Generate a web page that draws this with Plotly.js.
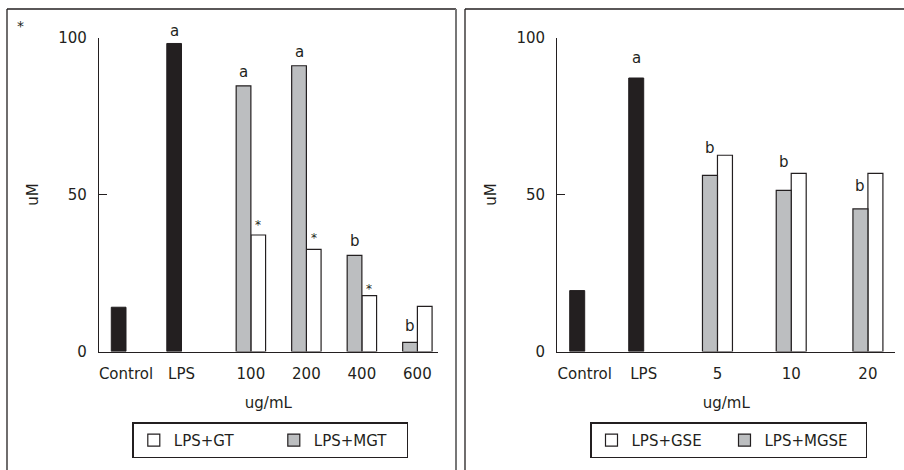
<!DOCTYPE html>
<html>
<head>
<meta charset="utf-8">
<script src="https://cdn.plot.ly/plotly-3.0.1.min.js"></script>
<style>
  html, body { margin: 0; padding: 0; background: #ffffff; }
  #chart { width: 904px; height: 470px; }
</style>
</head>
<body>
<div id="chart"></div>
<script>
// ---------------- data ----------------
const leftCats = ['Control', 'LPS', '100', '200', '400', '600'];
const leftBlack = [14.1, 98.1];            // Control, LPS
const leftMGT = [84.6, 91.0, 30.6, 2.9];   // LPS+MGT at 100..600
const leftGT = [37.1, 32.5, 17.8, 14.4];   // LPS+GT at 100..600
const leftBlackSig = ['', 'a'];
const leftMGTSig = ['a', 'a', 'b', 'b'];
const leftGTSig = ['*', '*', '*', ''];

const rightCats = ['Control', 'LPS', '5', '10', '20'];
const rightBlack = [19.4, 87.1];
const rightMGSE = [56.1, 51.3, 45.4];
const rightGSE = [62.5, 56.7, 56.7];
const rightBlackSig = ['', 'a'];
const rightMGSESig = ['b', 'b', 'b'];

const xUnit = 'ug/mL';
const yUnit = 'uM';

// ---------------- layout constants (positions / styles) ----------------
const leftPos = [0, 1, 2.25, 3.25, 4.25, 5.25];
const rightPos = [0, 1, 2.25, 3.5, 4.8];
const wL = 0.265, wR = 0.254;
const INK = '#231f20', GRAY = '#bcbec0';
const FONT = 'DejaVu Sans, Verdana, sans-serif';
// baseline lift above bar top (px) for letters, centre lift for asterisks
const liftLBlack = [0, 6], liftLMGT = [7, 7.4, 7.6, 9.6], liftLGT = [12.3, 12.8, 8.4, 0];
const liftRBlack = [0, 13.7], liftRMGSE = [21.3, 22.3, 16.3];

const lineStyle = { color: INK, width: 1.2 };

const data = [
  { type: 'bar', x: leftPos.slice(0, 2), y: leftBlack, width: wL, offset: -wL,
    marker: { color: INK, line: { color: INK, width: 1 } }, showlegend: false, xaxis: 'x', yaxis: 'y' },
  { type: 'bar', name: 'LPS+GT', x: leftPos.slice(2), y: leftGT, width: wL, offset: 0, legendwidth: 95,
    marker: { color: '#ffffff', line: lineStyle }, legend: 'legend', xaxis: 'x', yaxis: 'y' },
  { type: 'bar', name: 'LPS+MGT', x: leftPos.slice(2), y: leftMGT, width: wL, offset: -wL, legendwidth: 88,
    marker: { color: GRAY, line: lineStyle }, legend: 'legend', xaxis: 'x', yaxis: 'y' },
  { type: 'bar', x: rightPos.slice(0, 2), y: rightBlack, width: wR, offset: -wR,
    marker: { color: INK, line: { color: INK, width: 1 } }, showlegend: false, xaxis: 'x2', yaxis: 'y2' },
  { type: 'bar', name: 'LPS+GSE', x: rightPos.slice(2), y: rightGSE, width: wR, offset: 0, legendwidth: 88,
    marker: { color: '#ffffff', line: lineStyle }, legend: 'legend2', xaxis: 'x2', yaxis: 'y2' },
  { type: 'bar', name: 'LPS+MGSE', x: rightPos.slice(2), y: rightMGSE, width: wR, offset: -wR, legendwidth: 96,
    marker: { color: GRAY, line: lineStyle }, legend: 'legend2', xaxis: 'x2', yaxis: 'y2' }
];

const annotations = [];
function addSig(labels, xs, ys, dx, lifts, xref, yref) {
  labels.forEach((t, i) => {
    if (!t) return;
    const star = t === '*';
    const size = star ? 12 : 15;
    const yshift = star ? lifts[i] - 0.58 * size - 0.236 * size : lifts[i] - 0.236 * size;
    annotations.push({ text: t, x: xs[i] + dx, y: ys[i], xref: xref, yref: yref,
      xanchor: 'center', yanchor: 'bottom', yshift: yshift, borderpad: 0,
      showarrow: false, font: { family: FONT, size: size, color: INK } });
  });
}
addSig(leftBlackSig, leftPos.slice(0, 2), leftBlack, -wL / 2, liftLBlack, 'x', 'y');
addSig(leftMGTSig, leftPos.slice(2), leftMGT, -wL / 2, liftLMGT, 'x', 'y');
addSig(leftGTSig, leftPos.slice(2), leftGT, wL / 2, liftLGT, 'x', 'y');
addSig(rightBlackSig, rightPos.slice(0, 2), rightBlack, -wR / 2, liftRBlack, 'x2', 'y2');
addSig(rightMGSESig, rightPos.slice(2), rightMGSE, -wR / 2, liftRMGSE, 'x2', 'y2');
annotations.push({ text: '*', xref: 'paper', yref: 'paper', x: 20.7 / 904, y: (470 - 26) / 470,
  xanchor: 'center', yanchor: 'middle', showarrow: false, font: { family: FONT, size: 14, color: INK } });

const px = v => v / 904, py = v => (470 - v) / 470;
const frame = { color: INK, width: 1.3 };
const shapes = [
  { type: 'line', xref: 'paper', yref: 'paper', x0: px(7), x1: px(456), y0: py(9), y1: py(9), line: frame },
  { type: 'line', xref: 'paper', yref: 'paper', x0: px(7), x1: px(7), y0: py(9), y1: -0.02, line: frame },
  { type: 'line', xref: 'paper', yref: 'paper', x0: px(456), x1: px(456), y0: py(9), y1: -0.02, line: { color: '#777777', width: 2 } },
  { type: 'line', xref: 'paper', yref: 'paper', x0: px(465), x1: 1.02, y0: py(9), y1: py(9), line: frame },
  { type: 'line', xref: 'paper', yref: 'paper', x0: px(465), x1: px(465), y0: py(9), y1: -0.02, line: frame }
];

const tickFont = { family: FONT, size: 15, color: INK };
function xAxis(domain, range, pos, cats) {
  return { domain: domain, range: range, tickmode: 'array', tickvals: pos, ticktext: cats,
    showline: true, linecolor: INK, linewidth: 1.2, ticks: '', showgrid: false, zeroline: false,
    tickfont: tickFont, ticklabelstandoff: 8, fixedrange: true,
    title: { text: xUnit, font: tickFont, standoff: 15 } };
}
function yAxis(domain, anchor) {
  return { domain: domain, range: [0, 100], tickmode: 'array', tickvals: [0, 50, 100],
    showline: true, linecolor: INK, linewidth: 1.2, ticks: 'inside', ticklen: 8, tickcolor: INK, tickwidth: 1.2,
    showgrid: false, zeroline: false, tickfont: tickFont, ticklabelstandoff: 8, anchor: anchor,
    title: { text: yUnit, font: tickFont, standoff: 16 } };
}
const yDom = [py(351.5), py(37.5)];

const legendBase = { orientation: 'h', xanchor: 'left', yanchor: 'top', bordercolor: INK, borderwidth: 1.5,
  bgcolor: '#ffffff', font: { family: FONT, size: 15, color: INK } };

const layout = {
  width: 904, height: 470,
  margin: { l: 0, r: 0, t: 0, b: 0 },
  paper_bgcolor: '#ffffff', plot_bgcolor: 'rgba(0,0,0,0)',
  font: { family: FONT, color: INK },
  barmode: 'overlay',
  xaxis: xAxis([px(99), px(437.7)], [-0.4865, 5.6162], leftPos, leftCats),
  yaxis: yAxis(yDom, 'x'),
  xaxis2: Object.assign(xAxis([px(557.3), px(895.3)], [-0.4644, 5.264], rightPos, rightCats), { anchor: 'y2' }),
  yaxis2: yAxis(yDom, 'x2'),
  legend: Object.assign({}, legendBase, { x: px(132.3), y: py(422.3) }),
  legend2: Object.assign({}, legendBase, { x: px(590), y: py(422.3) }),
  annotations: annotations,
  shapes: shapes,
  showlegend: true
};

Plotly.newPlot('chart', data, layout, { staticPlot: true, displayModeBar: false });
</script>
</body>
</html>
